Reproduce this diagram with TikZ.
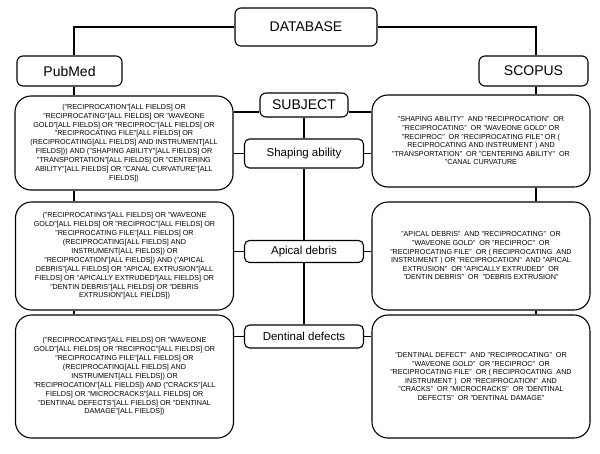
\documentclass[tikz,border=0pt]{standalone}
\usepackage{fontspec}
\setmainfont{Liberation Sans}
\begin{document}
\begin{tikzpicture}[x=1pt,y=-1pt]
\tikzstyle{node_style1} = [draw,rounded corners=6pt,line width=1.1pt,inner sep=0pt,font=\fontsize{14}{16}\selectfont]
\tikzstyle{node_style2} = [draw,rounded corners=5pt,line width=1.1pt,inner sep=0pt,minimum width=119pt,font=\fontsize{11.5}{13}\selectfont]
\tikzstyle{node_style3} = [draw,rounded corners=16pt,line width=1.1pt,inner sep=0pt,minimum width=218pt,align=center,font=\fontsize{7.2}{8.9}\selectfont]
\tikzstyle{edge_style1} = [black, line width=1.1pt]
    \useasboundingbox (0,0) rectangle (600,453);

    \node[node_style1,minimum width=142pt,minimum height=38pt] (db) at (306,27) {DATABASE};
    \node[node_style1,minimum width=105pt,minimum height=30pt] (pubmed) at (69.5,71) {PubMed};
    \node[node_style1,minimum width=109pt,minimum height=30pt] (scopus) at (533.5,71) {SCOPUS};
    \node[node_style1,minimum width=88pt,minimum height=24pt] (subject) at (304,105) {SUBJECT};

    \node[node_style2,minimum height=29pt] (shaping) at (304,153.5) {Shaping ability};
    \node[node_style2,minimum height=22pt] (apical) at (304,251.5) {Apical debris};
    \node[node_style2,minimum height=23pt] (dentinal) at (304,336.5) {Dentinal defects};

    \node[node_style3,minimum height=94pt] (lq1) at (124,143) {("RECIPROCATION"[ALL FIELDS] OR\\
"RECIPROCATING"[ALL FIELDS] OR "WAVEONE\\
GOLD"[ALL FIELDS] OR "RECIPROC"[ALL FIELDS] OR\\
"RECIPROCATING FILE"[ALL FIELDS] OR\\
(RECIPROCATING[ALL FIELDS] AND INSTRUMENT[ALL\\
FIELDS])) AND ("SHAPING ABILITY"[ALL FIELDS] OR\\
"TRANSPORTATION"[ALL FIELDS] OR "CENTERING\\
ABILITY"[ALL FIELDS] OR "CANAL CURVATURE"[ALL\\
FIELDS])};
    \node[node_style3,minimum height=108pt] (lq2) at (124.5,256) {("RECIPROCATING"[ALL FIELDS] OR "WAVEONE\\
GOLD"[ALL FIELDS] OR "RECIPROC"[ALL FIELDS] OR\\
"RECIPROCATING FILE"[ALL FIELDS] OR\\
(RECIPROCATING[ALL FIELDS] AND\\
INSTRUMENT[ALL FIELDS]) OR\\
"RECIPROCATION"[ALL FIELDS]) AND ("APICAL\\
DEBRIS"[ALL FIELDS] OR "APICAL EXTRUSION"[ALL\\
FIELDS] OR "APICALLY EXTRUDED"[ALL FIELDS] OR\\
"DENTIN DEBRIS"[ALL FIELDS] OR "DEBRIS\\
EXTRUSION"[ALL FIELDS])};
    \node[node_style3,minimum height=123pt] (lq3) at (124.5,376.5) {("RECIPROCATING"[ALL FIELDS] OR "WAVEONE\\
GOLD"[ALL FIELDS] OR "RECIPROC"[ALL FIELDS] OR\\
"RECIPROCATING FILE"[ALL FIELDS] OR\\
(RECIPROCATING[ALL FIELDS] AND\\
INSTRUMENT[ALL FIELDS]) OR\\
"RECIPROCATION"[ALL FIELDS]) AND ("CRACKS"[ALL\\
FIELDS] OR "MICROCRACKS"[ALL FIELDS] OR\\
"DENTINAL DEFECTS"[ALL FIELDS] OR "DENTINAL\\
DAMAGE"[ALL FIELDS])};

    \node[node_style3,minimum height=92pt,font=\fontsize{7.2}{8.6}\selectfont] (rq1) at (481,141) {"SHAPING ABILITY"\ \ AND "RECIPROCATION"\ \ OR\\
"RECIPROCATING"\ \ OR "WAVEONE GOLD" OR\\
"RECIPROC"\ \ OR "RECIPROCATING FILE" OR (\\
RECIPROCATING AND INSTRUMENT ) AND\\
"TRANSPORTATION"\ \ OR "CENTERING ABILITY"\ \ OR\\
"CANAL CURVATURE};
    \node[node_style3,minimum height=108pt,font=\fontsize{7.2}{8.6}\selectfont] (rq2) at (481,256) {"APICAL DEBRIS"\ \ AND "RECIPROCATING"\ \ OR\\
"WAVEONE GOLD"\ \ OR "RECIPROC"\ \ OR\\
"RECIPROCATING FILE"\ \ OR ( RECIPROCATING\ \ AND\\
INSTRUMENT ) OR "RECIPROCATION"\ \ AND "APICAL\\
EXTRUSION"\ \ OR "APICALLY EXTRUDED"\ \ OR\\
"DENTIN DEBRIS"\ \ OR\ \ "DEBRIS EXTRUSION"};
    \node[node_style3,minimum height=123pt,font=\fontsize{7.2}{8.6}\selectfont] (rq3) at (481,376.5) {"DENTINAL DEFECT"\ \ AND "RECIPROCATING"\ \ OR\\
"WAVEONE GOLD"\ \ OR "RECIPROC"\ \ OR\\
"RECIPROCATING FILE"\ \ OR ( RECIPROCATING\ \ AND\\
INSTRUMENT )\ \ OR "RECIPROCATION"\ \ AND\\
"CRACKS"\ \ OR "MICROCRACKS"\ \ OR "DENTINAL\\
DEFECTS"\ \ OR "DENTINAL DAMAGE"};

    \coordinate (pm) at ([xshift=4.5pt]pubmed.south);
    \coordinate (sc) at ([xshift=2.5pt]scopus.south);
    \coordinate (subl) at ([yshift=-7pt]subject.west);
    \coordinate (subr) at ([yshift=-7pt]subject.east);

    \draw[edge_style1] (db.west) -| ([xshift=4.5pt]pubmed.north);
    \draw[edge_style1] (db.east) -| ([xshift=2.5pt]scopus.north);
    \draw[edge_style1] (pm) -- (pm |- lq1.north);
    \draw[edge_style1] (pm |- lq1.south) -- (pm |- lq2.north);
    \draw[edge_style1] (pm |- lq2.south) -- (pm |- lq3.north);
    \draw[edge_style1] (sc) -- (sc |- rq1.north);
    \draw[edge_style1] (sc |- rq1.south) -- (sc |- rq2.north);
    \draw[edge_style1] (sc |- rq2.south) -- (sc |- rq3.north);

    \draw[edge_style1] (subl) -- (subl -| lq1.east);
    \draw[edge_style1] (subr) -- (subr -| rq1.west);
    \draw[edge_style1] (shaping.west) -- (shaping.west -| lq1.east);
    \draw[edge_style1] (shaping.east) -- (shaping.east -| rq1.west);
    \draw[edge_style1] (apical.west) -- (apical.west -| lq2.east);
    \draw[edge_style1] (apical.east) -- (apical.east -| rq2.west);
    \draw[edge_style1] (dentinal.west) -- (dentinal.west -| lq3.east);
    \draw[edge_style1] (dentinal.east) -- (dentinal.east -| rq3.west);

    \draw[edge_style1] (subject.south) -- (shaping.north);
    \draw[edge_style1] (shaping.south) -- (apical.north);
    \draw[edge_style1] (apical.south) -- (dentinal.north);
\end{tikzpicture}
\end{document}
